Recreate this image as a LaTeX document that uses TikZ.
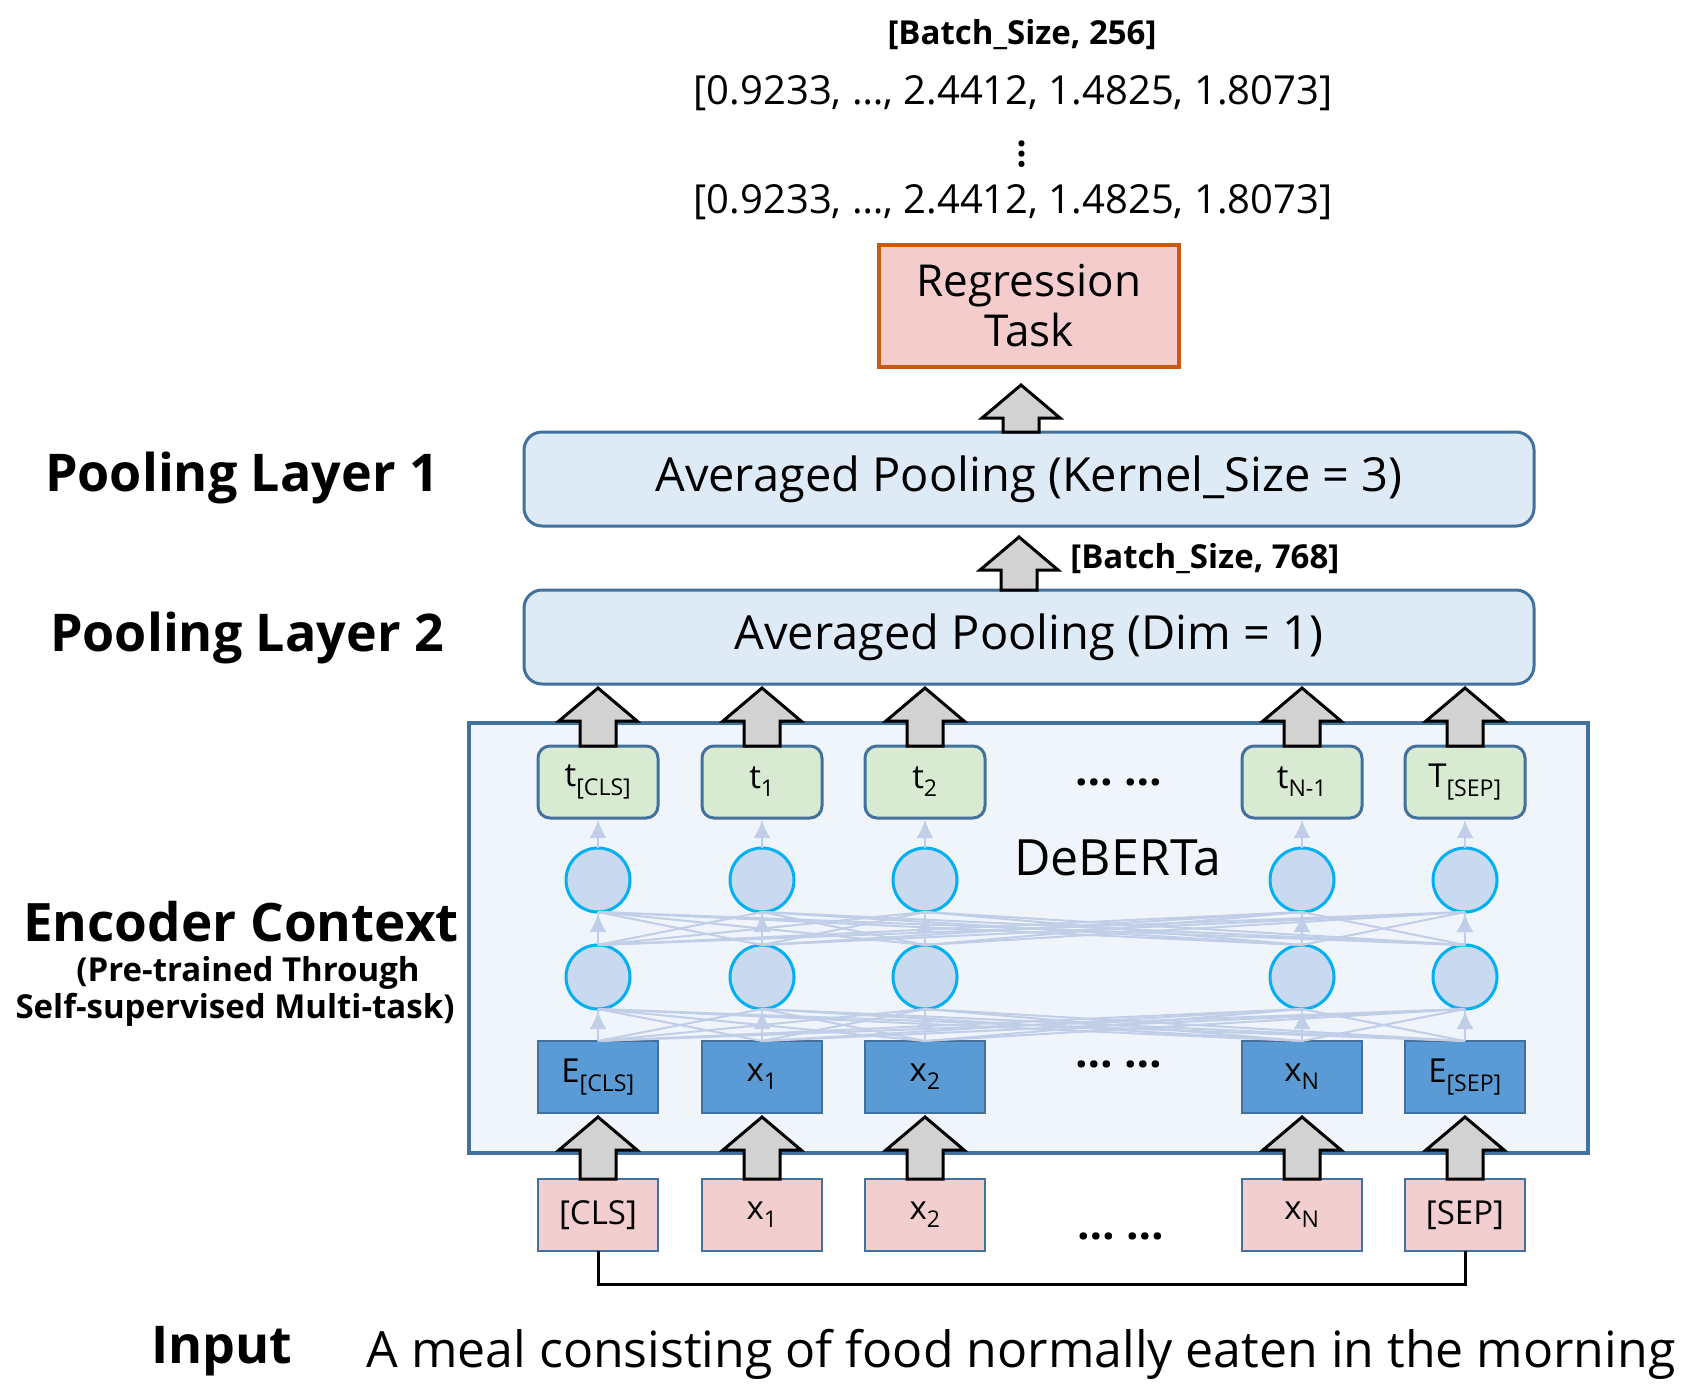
\documentclass[tikz,border=0pt]{standalone}
\usepackage{fontspec}
\setmainfont{Open Sans}
\usepackage{tikz}
\usetikzlibrary{calc}
\usetikzlibrary{positioning}
\usetikzlibrary{arrows.meta}

\definecolor{boxedge}{RGB}{65,113,156}
\definecolor{poolfill}{RGB}{222,235,247}
\definecolor{taskfill}{RGB}{244,204,204}
\definecolor{taskedge}{RGB}{197,90,17}
\definecolor{encfill}{RGB}{240,244,251}
\definecolor{outfill}{RGB}{217,234,211}
\definecolor{embfill}{RGB}{91,155,213}
\definecolor{cellfill}{RGB}{200,217,240}
\definecolor{celledge}{RGB}{0,176,240}
\definecolor{linkblue}{RGB}{192,206,232}
\definecolor{infill}{RGB}{242,206,206}
\definecolor{bigarrow}{RGB}{210,210,210}

% hollow up arrow: start anchor, target anchor, gap below target
\newcommand{\blockup}[3]{%
  \draw[blockarrow] let \p1=(#1), \p2=(#2) in
    (\x1-18pt,\y1) -- (\x1-18pt,\y2-#3pt-33pt) -- (\x1-39pt,\y2-#3pt-33pt) -- (\x1,\y2-#3pt)
    -- (\x1+39pt,\y2-#3pt-33pt) -- (\x1+18pt,\y2-#3pt-33pt) -- (\x1+18pt,\y1) -- cycle;}

\begin{document}
\begin{tikzpicture}[x=1pt, y=-1pt, every node/.style={outer sep=0pt},
    poolbox/.style={draw=boxedge, line width=3pt, fill=poolfill, rounded corners=18pt, minimum width=1010pt, minimum height=94pt, font=\fontsize{47}{56}\selectfont},
    taskbox/.style={draw=taskedge, line width=4pt, fill=taskfill, minimum width=300pt, minimum height=122pt, align=center, font=\fontsize{44}{50}\selectfont},
    encbox/.style={draw=boxedge, line width=4pt, fill=encfill, minimum width=1119pt, minimum height=430pt},
    outbox/.style={draw=boxedge, line width=3pt, fill=outfill, rounded corners=12pt, minimum width=120pt, minimum height=72pt, inner sep=0pt, font=\fontsize{33}{38}\selectfont},
    embbox/.style={draw=boxedge, line width=2.5pt, fill=embfill, minimum width=120pt, minimum height=72pt, inner sep=0pt, font=\fontsize{33}{38}\selectfont},
    inbox/.style={draw=boxedge, line width=2.5pt, fill=infill, minimum width=120pt, minimum height=72pt, inner sep=0pt, font=\fontsize{33}{38}\selectfont},
    cell/.style={circle, draw=celledge, line width=3pt, fill=cellfill, minimum size=64pt, inner sep=0pt},
    link/.style={draw=linkblue, line width=2pt},
    feed/.style={-{Latex[length=18pt,width=17pt]}, draw=linkblue, line width=2pt, shorten >=2pt},
    blockarrow/.style={draw=black, line width=3pt, fill=bigarrow, line join=miter},
    sidelabel/.style={font=\bfseries\fontsize{52}{60}\selectfont},
    notelabel/.style={font=\bfseries\fontsize{33}{38}\selectfont},
    vectext/.style={font=\fontsize{40}{46}\selectfont},
    gapdots/.style={font=\bfseries\fontsize{44}{48}\selectfont}]
        \useasboundingbox (0,0) rectangle (1685,1394);

        \node[notelabel] (dim256) at (1022,35) {[Batch\_Size, 256]};
        \node[vectext] (vecfirst) at (1013,93) {[0.9233, \ldots, 2.4412, 1.4825, 1.8073]};
        \node[inner sep=0pt, font=\bfseries\fontsize{36}{36}\selectfont] (vdots) at (1022,154) {\rotatebox{90}{\ldots}};
        \node[vectext] (veclast) at (1013,202) {[0.9233, \ldots, 2.4412, 1.4825, 1.8073]};

        \node[poolbox] (pool2) at (1029,637) {Averaged Pooling (Dim = 1)};
        \node[poolbox] (pool1) [above=64pt of pool2] {Averaged Pooling (Kernel\_Size = 3)};
        \node[taskbox] (task) [above=65pt of pool1] {Regression\\Task};
        \node[notelabel, anchor=west] (dim768) at (1067,559) {[Batch\_Size, 768]};

        \node[sidelabel] (lab1) at (242,478) {Pooling Layer 1};
        \node[sidelabel] (lab2) at (247,638) {Pooling Layer 2};
        \node[sidelabel, font=\bfseries\fontsize{53}{60}\selectfont] (labenc) at (241,922) {Encoder Context};
        \node[notelabel] (labpre) at (248,973) {(Pre-trained Through};
        \node[notelabel] (labself) at (235,1010) {Self-supervised Multi-task)};

        \node[encbox] (enc) at (1028.5,938) {};
        \node[font=\fontsize{50}{58}\selectfont] (deberta) at (1118,858) {DeBERTa};

        \node[outbox] (t-cls) at (598,782) {t\textsubscript{[CLS]}};
        \node[outbox] (t-1) [right=44pt of t-cls] {t\textsubscript{1}};
        \node[outbox] (t-2) [right=43pt of t-1] {t\textsubscript{2}};
        \node[outbox] (t-n) [right=257pt of t-2] {t\textsubscript{N-1}};
        \node[outbox] (t-sep) [right=43pt of t-n] {T\textsubscript{[SEP]}};
        \node[gapdots] (tdots) at (1119,782) {\ldots\ \ldots};

        \node[cell] (cb-cls) [below=30pt of t-cls] {};
        \node[cell] (cb-1) [below=30pt of t-1] {};
        \node[cell] (cb-2) [below=30pt of t-2] {};
        \node[cell] (cb-n) [below=30pt of t-n] {};
        \node[cell] (cb-sep) [below=30pt of t-sep] {};

        \node[cell] (ca-cls) [below=33pt of cb-cls] {};
        \node[cell] (ca-1) [below=33pt of cb-1] {};
        \node[cell] (ca-2) [below=33pt of cb-2] {};
        \node[cell] (ca-n) [below=33pt of cb-n] {};
        \node[cell] (ca-sep) [below=33pt of cb-sep] {};

        \node[embbox] (e-cls) [below=32pt of ca-cls] {E\textsubscript{[CLS]}};
        \node[embbox] (e-1) [below=32pt of ca-1] {x\textsubscript{1}};
        \node[embbox] (e-2) [below=32pt of ca-2] {x\textsubscript{2}};
        \node[embbox] (e-n) [below=32pt of ca-n] {x\textsubscript{N}};
        \node[embbox] (e-sep) [below=32pt of ca-sep] {E\textsubscript{[SEP]}};
        \node[gapdots] (edots) at (1119,1064) {\ldots\ \ldots};

        \node[inbox] (in-cls) [below=66pt of e-cls] {[CLS]};
        \node[inbox] (in-1) [below=66pt of e-1] {x\textsubscript{1}};
        \node[inbox] (in-2) [below=66pt of e-2] {x\textsubscript{2}};
        \node[inbox] (in-n) [below=66pt of e-n] {x\textsubscript{N}};
        \node[inbox] (in-sep) [below=66pt of e-sep] {[SEP]};
        \node[gapdots] (indots) at (1121,1236) {\ldots\ \ldots};

        \node[sidelabel] (labin) at (222,1351) {Input};
        \node[font=\fontsize{50}{58}\selectfont] (sentence) at (1021,1354) {A meal consisting of food normally eaten in the morning};

        % dense links between layers
        \foreach \a in {cls,1,2,n,sep} {
            \foreach \b in {cls,1,2,n,sep} {
                \draw[link] (e-\a.north) -- (ca-\b.south);
                \draw[link] (ca-\a.north) -- (cb-\b.south);
            }
            \draw[feed] (e-\a.north) -- (ca-\a.south);
            \draw[feed] (ca-\a.north) -- (cb-\a.south);
            \draw[feed] (cb-\a.north) -- (t-\a.south);
        }

        \draw[line width=3pt] (in-cls.south) -- ++(0,33) -| (in-sep.south);

        \blockup{$(pool1.north)+(-8,0)$}{task.south}{18}
        \blockup{$(pool2.north)+(-10,0)$}{pool1.south}{11}
        \blockup{t-cls.north}{pool2.south}{4}
        \blockup{t-1.north}{pool2.south}{4}
        \blockup{t-2.north}{pool2.south}{4}
        \blockup{t-n.north}{pool2.south}{4}
        \blockup{t-sep.north}{pool2.south}{4}
        \blockup{in-cls.north}{e-cls.south}{4}
        \blockup{in-1.north}{e-1.south}{4}
        \blockup{in-2.north}{e-2.south}{4}
        \blockup{in-n.north}{e-n.south}{4}
        \blockup{in-sep.north}{e-sep.south}{4}
    \end{tikzpicture}
\end{document}
